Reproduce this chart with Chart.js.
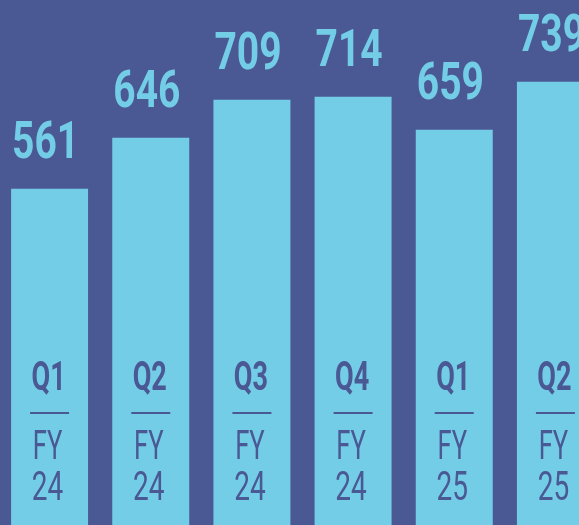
<!DOCTYPE html>
<html><head><meta charset="utf-8">
<script src="https://cdn.jsdelivr.net/npm/chart.js@4"></script>
<style>
html,body{margin:0;padding:0;background:#4a5894;overflow:hidden;width:579px;height:525px;}
#wrap{position:absolute;left:-1px;top:0;width:607px;height:526px;}
</style></head>
<body>
<div id="wrap"><canvas id="c" width="607" height="526"></canvas></div>
<script>
const quarters = ["Q1","Q2","Q3","Q4","Q1","Q2"];
const fiscalYears = ["24","24","24","24","25","25"];
const values = [561, 646, 709, 714, 659, 739];
const categories = quarters.map((q,i)=>q+" FY"+fiscalYears[i]);

const BG = "#4a5894";
const BAR = "#73cde6";

const labelPlugin = {
  id: "labels",
  afterDatasetsDraw(chart){
    const ctx = chart.ctx;
    const meta = chart.getDatasetMeta(0);
    const bottom = chart.chartArea.bottom;
    meta.data.forEach((bar,i)=>{
      const left = bar.x - bar.width/2;
      // value label
      ctx.save();
      ctx.fillStyle = BAR;
      ctx.textBaseline = "alphabetic";
      ctx.textAlign = "left";
      ctx.font = "bold 52px Roboto";
      ctx.translate(left+1, bar.y - 31);
      ctx.scale(0.75,1);
      ctx.fillText(String(values[i]), 0, 0);
      ctx.restore();
      // quarter
      const cx = bar.x - 1;
      ctx.save();
      ctx.fillStyle = BG;
      ctx.textAlign = "center";
      ctx.font = "bold 41px Roboto";
      ctx.translate(cx, bottom - 136);
      ctx.scale(0.66,1);
      ctx.fillText(quarters[i], 0, 0);
      ctx.restore();
      // line
      ctx.save();
      ctx.fillStyle = BG;
      ctx.fillRect(bar.x - 19.5, bottom - 114, 39, 2);
      ctx.restore();
      // FY
      ctx.save();
      ctx.fillStyle = BG;
      ctx.textAlign = "center";
      ctx.font = "40px Roboto";
      ctx.translate(bar.x - 2, bottom - 67);
      ctx.scale(0.64,1);
      ctx.fillText("FY", 0, 0);
      ctx.restore();
      ctx.save();
      ctx.fillStyle = BG;
      ctx.textAlign = "center";
      ctx.font = "40px Roboto";
      ctx.translate(bar.x - 2, bottom - 26);
      ctx.scale(0.7,1);
      ctx.fillText(fiscalYears[i], 0, 0);
      ctx.restore();
    });
  }
};

new Chart(document.getElementById("c"), {
  type: "bar",
  data: {
    labels: categories,
    datasets: [{
      data: values,
      backgroundColor: BAR,
      borderWidth: 0,
      categoryPercentage: 1,
      barPercentage: 0.761
    }]
  },
  options: {
    responsive: false,
    animation: false,
    devicePixelRatio: 1,
    layout: {padding: 0},
    plugins: {legend:{display:false}, tooltip:{enabled:false}},
    scales: {
      x: {display:false},
      y: {display:false, min:0, max:875}
    }
  },
  plugins: [labelPlugin]
});
</script>
</body></html>
